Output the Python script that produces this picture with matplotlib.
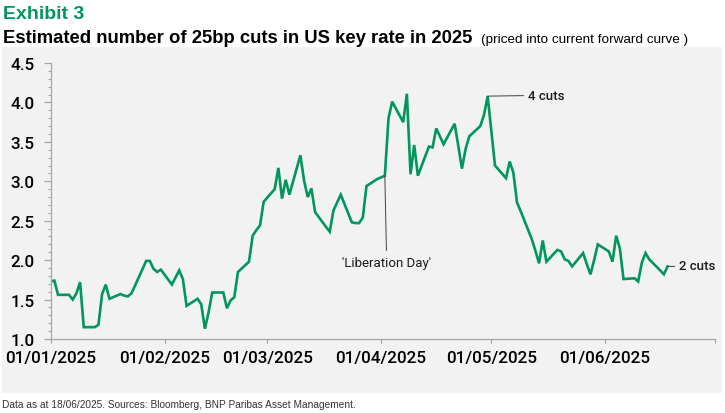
import numpy as np
import pandas as pd
import matplotlib
matplotlib.use("Agg")
import matplotlib.pyplot as plt
import matplotlib.dates as mdates
from matplotlib.patches import Rectangle
from matplotlib.ticker import MultipleLocator

plt.rcParams['font.family'] = ['Liberation Sans', 'DejaVu Sans']

# days after 01/01/2025 and number of 25bp cuts priced in
days = [0, 1, 2, 5, 6, 7, 8, 9, 12, 13, 14, 15, 16, 19, 20, 21, 22, 23, 26, 27,
        28, 29, 30, 33, 34, 35, 36, 37, 40, 41, 42, 43, 44, 47, 48, 49, 50, 51, 54, 55,
        56, 57, 58, 61, 62, 63, 64, 65, 68, 69, 70, 71, 72, 75, 76, 77, 78, 79, 82, 83,
        84, 85, 86, 89, 90, 91, 92, 93, 96, 97, 98, 99, 100, 103, 104, 105, 106, 107, 110, 111,
        112, 113, 114, 117, 118, 119, 120, 121, 124, 125, 126, 127, 128, 131, 132, 133, 134, 135, 138, 139,
        140, 141, 142, 145, 146, 147, 148, 149, 152, 153, 154, 155, 156, 159, 160, 161, 162, 163, 166, 167,
        168]
cuts = [1.73, 1.74, 1.56, 1.56, 1.50, 1.58, 1.72, 1.15, 1.15, 1.18, 1.57, 1.69, 1.51, 1.57, 1.55, 1.54, 1.58, 1.68, 1.99, 1.99,
        1.89, 1.85, 1.88, 1.69, 1.78, 1.87, 1.76, 1.42, 1.51, 1.44, 1.13, 1.34, 1.59, 1.59, 1.39, 1.49, 1.53, 1.85, 1.98, 2.31,
        2.38, 2.44, 2.74, 2.90, 3.17, 2.78, 3.02, 2.83, 3.33, 3.01, 2.80, 2.91, 2.61, 2.42, 2.36, 2.63, 2.73, 2.83, 2.48, 2.47,
        2.47, 2.54, 2.94, 3.03, 3.05, 3.07, 3.80, 4.01, 3.75, 4.11, 3.09, 3.46, 3.07, 3.44, 3.43, 3.67, 3.57, 3.47, 3.73, 3.45,
        3.16, 3.41, 3.57, 3.70, 3.84, 4.08, 3.64, 3.20, 3.04, 3.25, 3.11, 2.73, 2.62, 2.27, 2.12, 1.96, 2.25, 1.98, 2.13, 2.11,
        2.01, 1.99, 1.92, 2.09, 1.95, 1.82, 2.00, 2.20, 2.11, 1.98, 2.31, 2.15, 1.76, 1.77, 1.73, 1.97, 2.09, 2.01, 1.87, 1.82,
        1.92]

month_ticks = ['2025-01-01', '2025-02-01', '2025-03-01', '2025-04-01', '2025-05-01', '2025-06-01', '2025-07-01']

dates = pd.Timestamp('2025-01-01') + pd.to_timedelta(days, unit='D')
s = pd.Series(cuts, index=dates)

green = '#00965e'
axis_grey = '#a6a6a6'
W, H = 725, 414
tick_font = dict(family=['Roboto', 'Liberation Sans'], weight='medium', size=12.3)

fig = plt.figure(figsize=(W / 100, H / 100), dpi=100)
fig.patches.append(Rectangle((2 / W, 1 - 394 / H), 720 / W, 346 / H, transform=fig.transFigure,
                             facecolor='#f2f2f2', edgecolor='none', zorder=-5))

ax = fig.add_axes([50.7 / W, 1 - 340 / H, (715.3 - 50.7) / W, (340 - 64) / H])
ax.set_zorder(2)
ax.set_facecolor('none')
ax.plot(s.index, s.values, color=green, lw=1.9, solid_joinstyle='miter')

ax.set_xlim(pd.Timestamp(month_ticks[0]), pd.Timestamp(month_ticks[-1]))
ax.set_ylim(1.0, 4.5)
ax.set_xticks(pd.to_datetime(month_ticks))
ax.set_xticklabels([pd.Timestamp(t).strftime('%d/%m/%Y') for t in month_ticks[:-1]] + [''], fontdict=tick_font)
yt = np.arange(1.0, 4.51, 0.5)
ax.set_yticks(yt)
ax.set_yticklabels([f'{v:.1f}' for v in yt], fontdict=tick_font)
ax.yaxis.set_minor_locator(MultipleLocator(0.1))

for sp in ['top', 'right']:
    ax.spines[sp].set_visible(False)
for sp in ['left', 'bottom']:
    ax.spines[sp].set_color(axis_grey)
    ax.spines[sp].set_linewidth(0.9)
ax.tick_params(axis='y', which='major', length=5, width=0.9, color=axis_grey, pad=6.5)
ax.tick_params(axis='y', which='minor', length=2.5, width=0.8, color=axis_grey)
ax.tick_params(axis='x', which='major', length=3, width=0.9, color=axis_grey, pad=5)

# annotations
note_font = dict(family=['Roboto', 'Liberation Sans'], size=9.5, color='#1a1a1a')
lib_day = pd.Timestamp('2025-04-02')
ax.annotate("'Liberation Day'", xy=(lib_day, 3.07), xytext=(lib_day + pd.Timedelta(days=0.5), 1.97),
            ha='center', va='center', **note_font,
            arrowprops=dict(arrowstyle='-', color='#404040', lw=0.7, shrinkA=2, shrinkB=0))
peak = pd.Timestamp('2025-01-01') + pd.Timedelta(days=119)
ax.annotate('4 cuts', xy=(peak, 4.08), xytext=(pd.Timestamp('2025-01-01') + pd.Timedelta(days=129.9), 4.09),
            ha='left', va='center', weight='medium', **note_font,
            arrowprops=dict(arrowstyle='-', color='#404040', lw=0.7, shrinkA=1, shrinkB=0))
last = s.index[-1]
ax.annotate('2 cuts', xy=(last, s.values[-1]), xytext=(last + pd.Timedelta(days=3.1), 1.926),
            ha='left', va='center', weight='medium', **note_font,
            arrowprops=dict(arrowstyle='-', color='#404040', lw=0.7, shrinkA=1, shrinkB=0))

# titles and footnote
fig.text(3 / W, 1 - 19 / H, 'Exhibit 3', color=green, fontsize=14, fontweight='bold', va='baseline')
fig.text(3 / W, 1 - 43 / H, 'Estimated number of 25bp cuts in US key rate in 2025', color='black',
         fontsize=13.3, fontweight='bold', va='baseline')
fig.text(481 / W, 1 - 43 / H, '(priced into current forward curve )', color='black', fontsize=9.7, va='baseline')
fig.text(2 / W, 1 - 408 / H, 'Data as at 18/06/2025. Sources: Bloomberg, BNP Paribas Asset Management.',
         color='#333333', fontsize=7.3, va='baseline')

fig.savefig('out.png', dpi=100)
